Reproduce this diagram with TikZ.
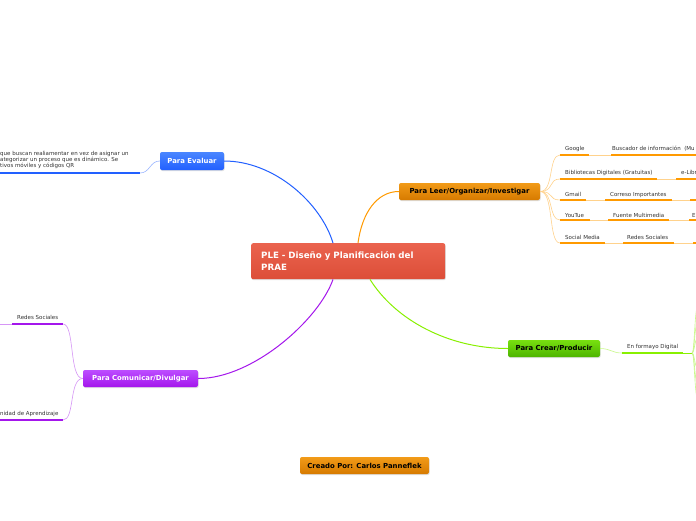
\documentclass[tikz,border=0pt]{standalone}
\usepackage{fontspec}
\setmainfont{DejaVu Sans}
\usetikzlibrary{shadows}

\definecolor{pleRed}{HTML}{E8523B}
\definecolor{evBlue}{HTML}{2260FF}
\definecolor{evTop}{HTML}{4A86FF}
\definecolor{leOrange}{HTML}{FF9A00}
\definecolor{leTop}{HTML}{F29B18}
\definecolor{leBot}{HTML}{D67A00}
\definecolor{crGreen}{HTML}{88F000}
\definecolor{crTop}{HTML}{78E010}
\definecolor{crBot}{HTML}{4DB400}
\definecolor{coPurple}{HTML}{A416EC}
\definecolor{coTop}{HTML}{BC4DFF}
\definecolor{leafGray}{HTML}{333333}

\begin{document}
\begin{tikzpicture}[x=1pt,y=-1pt,
  box/.style={rounded corners=2pt,inner sep=0pt,minimum height=17pt,
    font=\fontsize{6.9}{8}\selectfont\bfseries,
    drop shadow={shadow xshift=0.6pt,shadow yshift=-1pt,opacity=0.25}},
  evbox/.style={box,top color=evTop,bottom color=evBlue,text=white},
  lebox/.style={box,top color=leTop,bottom color=leBot,text=black},
  crbox/.style={box,top color=crTop,bottom color=crBot,text=black},
  cobox/.style={box,top color=coTop,bottom color=coPurple,text=white},
  leaf/.style={anchor=base west,inner sep=0pt,font=\fontsize{5.5}{6.5}\selectfont,text=leafGray},
  main/.style={line width=1pt},
  thin/.style={line width=0.6pt},
  thick/.style={line width=2pt}]
\clip (0,0) rectangle (696,520);
\fill[white] (0,0) rectangle (696,520);

\node[box,anchor=north west,minimum width=194pt,minimum height=36pt,
  top color=pleRed!90!white,bottom color=pleRed!95!black,text=white,
  text width=174pt,align=left,inner xsep=10pt,font=\fontsize{8.7}{12}\selectfont\bfseries]
  (ple) at (251,243) {PLE - Diseño y Planificación del\\PRAE};

\node[evbox,minimum width=64pt,minimum height=18pt] (ev) at (192,161) {Para Evaluar};
\node[lebox,minimum width=141pt] (le) at (469.5,191.5) {Para Leer/Organizar/Investigar};
\node[crbox,minimum width=92pt] (cr) at (554,348.5) {Para Crear/Producir};
\node[cobox,minimum width=115pt] (co) at (140.5,378.5) {Para Comunicar/Divulgar};
\node[lebox,minimum width=129pt] (autor) at (364.5,465.5) {Creado Por: Carlos Panneflek};

\draw[main,evBlue] ([xshift=82pt]ple.north west) .. controls +(-12,-40) and +(50,0) .. (ev.east);
\draw[main,leOrange] ([xshift=107pt]ple.north west) .. controls +(4,-30) and +(-22,0) .. (le.west);
\draw[main,coPurple] ([xshift=82pt]ple.south west) .. controls +(-14,40) and +(55,0) .. (co.east);
\draw[main,crGreen] ([xshift=119pt]ple.south west) .. controls +(25,40) and +(-60,0) .. (cr.west);

% Para Evaluar
\coordinate (ev1) at (140,173);
\draw[thin,evBlue!45] (ev.west) .. controls +(-10,0) and +(10,0) .. (ev1);
\draw[thick,evBlue] (0,173) -- (ev1);
\node[leaf] (evt1) at (0,155) {que buscan realiamentar en vez de asignar un};
\node[leaf] (evt2) at (0,161.5) {ategorizar un proceso que es dinámico. Se};
\node[leaf] (evt3) at (0,167.5) {tivos móviles y códigos QR};

% Para Leer/Organizar/Investigar
\coordinate (le1) at (560,155);
\coordinate (le2) at (560,179);
\coordinate (le3) at (560,200);
\coordinate (le4) at (560,220);
\coordinate (le5) at (560,243);
\draw[thin,leOrange!45] (le.east) .. controls +(14,0) and +(-12,0) .. (le1);
\draw[thin,leOrange!45] (le.east) .. controls +(14,0) and +(-12,0) .. (le2);
\draw[thin,leOrange!45] (le.east) .. controls +(14,0) and +(-12,0) .. (le3);
\draw[thin,leOrange!45] (le.east) .. controls +(14,0) and +(-12,0) .. (le4);
\draw[thin,leOrange!45] (le.east) .. controls +(14,0) and +(-12,0) .. (le5);

\node[leaf] (google) at (565,150) {Google};
\draw[thick,leOrange] (le1) -- (589,155);
\draw[thin,leOrange!45] (589,155) -- (611,155);
\node[leaf] (buscador) at (612,150) {Buscador de información\ \ (Mu};
\draw[thick,leOrange] (611,155) -- (696,155);

\node[leaf] (biblio) at (565,174) {Bibliotecas Digitales (Gratuitas)};
\draw[thick,leOrange] (le2) -- (657,179);
\draw[thin,leOrange!45] (657,179) -- (676,179);
\node[leaf] (elibro) at (681,174) {e-Libr};
\draw[thick,leOrange] (676,179) -- (696,179);

\node[leaf] (gmail) at (565,196) {Gmail};
\draw[thick,leOrange] (le3) -- (586,200);
\draw[thin,leOrange!45] (586,200) -- (605,200);
\node[leaf] (correo) at (610,196) {Correso Importantes};
\draw[thick,leOrange] (605,200) -- (672,200);
\draw[thin,leOrange!45] (672,200) -- (690,200);
\draw[thick,leOrange] (690,200) -- (696,200);

\node[leaf] (youtube) at (565,217) {YouTue};
\draw[thick,leOrange] (le4) -- (590,220);
\draw[thin,leOrange!45] (590,220) -- (608,220);
\node[leaf] (fuente) at (613,217) {Fuente Multimedia};
\draw[thick,leOrange] (608,220) -- (669,220);
\draw[thin,leOrange!45] (669,220) -- (689,220);
\node[leaf] (fuente2) at (692,217) {E};
\draw[thick,leOrange] (689,220) -- (696,220);

\node[leaf] (social) at (565,239) {Social Media};
\draw[thick,leOrange] (le5) -- (605,243);
\draw[thin,leOrange!45] (605,243) -- (623,243);
\node[leaf] (redes) at (627,239) {Redes Sociales};
\draw[thick,leOrange] (623,243) -- (674,243);
\draw[thin,leOrange!45] (674,243) -- (693,243);
\draw[thick,leOrange] (693,243) -- (696,243);

% Para Crear/Producir
\coordinate (cr1) at (622,353);
\coordinate (cr2) at (683,353);
\draw[thin,crGreen!45] (cr.east) .. controls +(10,0) and +(-10,0) .. (cr1);
\draw[thick,crGreen] (cr1) -- (cr2);
\node[leaf] (formato) at (627,348) {En formayo Digital};
\draw[thin,crGreen] (cr2) -- (692,353);
\draw[thin,crGreen!45] (692,353) .. controls (695,353) and (694,300) .. (700,300);
\draw[thin,crGreen!45] (692,353) .. controls (695,353) and (694,318) .. (700,318);
\draw[thin,crGreen!45] (692,353) .. controls (695,353) and (694,336) .. (700,336);
\draw[thin,crGreen!45] (692,353) .. controls (695,353) and (694,370) .. (700,370);
\draw[thin,crGreen!45] (692,353) .. controls (695,353) and (694,388) .. (700,388);
\draw[thin,crGreen!45] (692,353) .. controls (695,353) and (694,405) .. (700,405);

% Para Comunicar/Divulgar
\coordinate (co1) at (63,324);
\coordinate (co2) at (63,420);
\draw[thin,coPurple!45] (co.west) .. controls +(-14,0) and +(12,0) .. (co1);
\draw[thin,coPurple!45] (co.west) .. controls +(-14,0) and +(12,0) .. (co2);
\draw[thick,coPurple] (12,324) -- (co1);
\draw[thin,coPurple!45] (0,324) -- (12,324);
\node[leaf] (redescom) at (17,319) {Redes Sociales};
\draw[thick,coPurple] (0,420) -- (co2);
\node[leaf] (comunidad) at (0,415) {nidad de Aprendizaje};
\end{tikzpicture}
\end{document}
